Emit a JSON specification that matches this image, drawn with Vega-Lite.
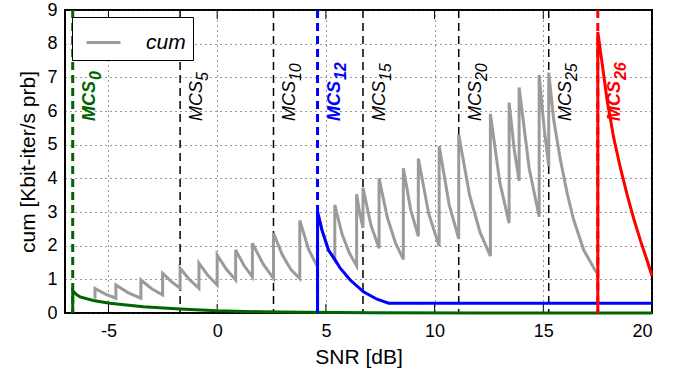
{
  "$schema": "https://vega.github.io/schema/vega-lite/v6.json",
  "width": 587,
  "height": 303,
  "autosize": {"type": "none"},
  "padding": {"left": 65, "top": 10, "right": 37, "bottom": 63},
  "background": "white",
  "config": {
    "view": {"stroke": "black", "strokeWidth": 2},
    "font": "Liberation Sans",
    "axis": {"labelFont": "Liberation Sans", "titleFont": "Liberation Sans", "labelColor": "black", "titleColor": "black", "titleFontWeight": "normal", "domain": false,
      "grid": true, "gridDash": [1, 4], "gridColor": "#333333", "gridWidth": 1, "gridOpacity": 1, "ticks": true, "tickSize": 0, "tickColor": "black",
      "labelFontSize": 18, "titleFontSize": 21, "labelOverlap": false},
    "axisX": {"labelPadding": 9, "titlePadding": 6},
    "axisY": {"labelPadding": 8, "titlePadding": 8}
  },
  "datasets": {
    "gray": [
      {"x": -5.62, "y": 0.42}, {"x": -5.62, "y": 0.73}, {"x": -5.14, "y": 0.56}, {"x": -4.66, "y": 0.44},
      {"x": -4.66, "y": 0.83}, {"x": -4.085, "y": 0.6}, {"x": -3.51, "y": 0.44},
      {"x": -3.51, "y": 0.98}, {"x": -3.01, "y": 0.72}, {"x": -2.51, "y": 0.535},
      {"x": -2.51, "y": 1.18}, {"x": -2.105, "y": 0.93}, {"x": -1.705, "y": 0.734},
      {"x": -1.705, "y": 1.33}, {"x": -1.27, "y": 0.99}, {"x": -0.84, "y": 0.734},
      {"x": -0.84, "y": 1.48}, {"x": -0.42, "y": 1.11}, {"x": 0.0, "y": 0.832},
      {"x": 0.0, "y": 1.72}, {"x": 0.425, "y": 1.3}, {"x": 0.85, "y": 0.98},
      {"x": 0.85, "y": 1.87}, {"x": 1.235, "y": 1.41}, {"x": 1.62, "y": 1.07},
      {"x": 1.62, "y": 2.07}, {"x": 2.11, "y": 1.46}, {"x": 2.59, "y": 1.03},
      {"x": 2.59, "y": 2.37}, {"x": 3.0, "y": 1.72}, {"x": 3.4, "y": 1.28}, {"x": 3.8, "y": 1.02},
      {"x": 3.8, "y": 2.75}, {"x": 4.21, "y": 1.88}, {"x": 4.616, "y": 1.37},
      {"x": 4.616, "y": 3.0}, {"x": 4.82, "y": 2.46}, {"x": 5.12, "y": 1.87}, {"x": 5.41, "y": 1.58},
      {"x": 5.41, "y": 3.21}, {"x": 5.74, "y": 2.35}, {"x": 6.08, "y": 1.78}, {"x": 6.414, "y": 1.4},
      {"x": 6.414, "y": 3.53}, {"x": 6.56, "y": 2.95}, {"x": 6.706, "y": 2.53},
      {"x": 6.706, "y": 3.72}, {"x": 7.076, "y": 2.6}, {"x": 7.447, "y": 1.92},
      {"x": 7.447, "y": 4.0}, {"x": 7.82, "y": 2.85}, {"x": 8.19, "y": 2.1}, {"x": 8.562, "y": 1.59},
      {"x": 8.562, "y": 4.3}, {"x": 8.907, "y": 3.05}, {"x": 9.252, "y": 2.28},
      {"x": 9.252, "y": 4.59}, {"x": 9.73, "y": 2.95}, {"x": 10.21, "y": 1.98},
      {"x": 10.21, "y": 4.96}, {"x": 10.67, "y": 3.22}, {"x": 11.11, "y": 2.2},
      {"x": 11.11, "y": 5.3}, {"x": 11.61, "y": 3.5}, {"x": 12.09, "y": 2.4}, {"x": 12.567, "y": 1.69},
      {"x": 12.567, "y": 5.91}, {"x": 13.0, "y": 3.88}, {"x": 13.428, "y": 2.67},
      {"x": 13.428, "y": 6.25}, {"x": 13.658, "y": 4.88}, {"x": 13.888, "y": 3.93},
      {"x": 13.888, "y": 6.7}, {"x": 14.35, "y": 4.3}, {"x": 14.81, "y": 2.86},
      {"x": 14.81, "y": 7.07}, {"x": 15.04, "y": 5.48}, {"x": 15.25, "y": 4.36},
      {"x": 15.25, "y": 7.14}, {"x": 15.48, "y": 5.73}, {"x": 15.79, "y": 4.54}, {"x": 16.1, "y": 3.55},
      {"x": 16.4, "y": 2.76}, {"x": 16.86, "y": 1.87}, {"x": 17.4, "y": 1.25}, {"x": 17.507, "y": 1.17}
    ],
    "green": [
      {"x": -6.645, "y": 0}, {"x": -6.645, "y": 0.66}, {"x": -6.5, "y": 0.56}, {"x": -6.31, "y": 0.48},
      {"x": -5.7, "y": 0.37}, {"x": -4.94, "y": 0.29}, {"x": -3.4, "y": 0.185}, {"x": -1.71, "y": 0.12},
      {"x": -0.02, "y": 0.068}, {"x": 1.97, "y": 0.038}, {"x": 4.0, "y": 0.02}, {"x": 7.0, "y": 0.008},
      {"x": 12.0, "y": 0.003}, {"x": 20.0, "y": 0.001}
    ],
    "blue": [
      {"x": 4.616, "y": 0}, {"x": 4.616, "y": 3.01}, {"x": 4.82, "y": 2.46}, {"x": 5.12, "y": 1.87},
      {"x": 5.43, "y": 1.57}, {"x": 5.66, "y": 1.33}, {"x": 6.12, "y": 0.98}, {"x": 6.73, "y": 0.63},
      {"x": 7.35, "y": 0.41}, {"x": 7.885, "y": 0.29}, {"x": 20.0, "y": 0.29}
    ],
    "red": [
      {"x": 17.507, "y": 0}, {"x": 17.507, "y": 8.35}, {"x": 17.71, "y": 7.4}, {"x": 17.94, "y": 6.3},
      {"x": 18.24, "y": 5.2}, {"x": 18.55, "y": 4.3}, {"x": 18.86, "y": 3.5}, {"x": 19.16, "y": 2.8},
      {"x": 19.47, "y": 2.15}, {"x": 19.78, "y": 1.55}, {"x": 20.0, "y": 1.1}
    ],
    "mcs": [
      {"mcs": 0, "x": -6.645, "sub": "0", "hl": true},
      {"mcs": 5, "x": -1.705, "sub": "5", "hl": false},
      {"mcs": 10, "x": 2.59, "sub": "10", "hl": false},
      {"mcs": 12, "x": 4.616, "sub": "12", "hl": true},
      {"mcs": 15, "x": 6.706, "sub": "15", "hl": false},
      {"mcs": 20, "x": 11.11, "sub": "20", "hl": false},
      {"mcs": 25, "x": 15.25, "sub": "25", "hl": false},
      {"mcs": 26, "x": 17.507, "sub": "26", "hl": true}
    ],
    "xticks": [
      {"t": -5, "lo": 0, "hi": 0.27}, {"t": 0, "lo": 0, "hi": 0.27}, {"t": 5, "lo": 0, "hi": 0.27},
      {"t": 10, "lo": 0, "hi": 0.27}, {"t": 15, "lo": 0, "hi": 0.27}, {"t": 20, "lo": 0, "hi": 0.27},
      {"t": -5, "lo": 8.73, "hi": 9}, {"t": 0, "lo": 8.73, "hi": 9}, {"t": 5, "lo": 8.73, "hi": 9},
      {"t": 10, "lo": 8.73, "hi": 9}, {"t": 15, "lo": 8.73, "hi": 9}, {"t": 20, "lo": 8.73, "hi": 9}
    ]
  },
  "layer": [
    {
      "data": {"name": "xticks"},
      "mark": {"type": "rule", "color": "black", "strokeWidth": 1},
      "encoding": {
        "x": {"field": "t", "type": "quantitative", "scale": {"domain": [-7, 20], "nice": false, "zero": false},
          "axis": {"values": [-5, 0, 5, 10, 15, 20], "title": "SNR [dB]", "labelExpr": "datum.value < 0 ? '-' + abs(datum.value) : '' + datum.value"}},
        "y": {"field": "lo", "type": "quantitative", "scale": {"domain": [0, 9], "nice": false, "zero": true},
          "axis": {"values": [0, 1, 2, 3, 4, 5, 6, 7, 8, 9], "tickCount": 10, "title": "cum [Kbit-iter/s prb]"}},
        "y2": {"field": "hi"}
      }
    },
    {
      "data": {"name": "mcs"},
      "mark": {"type": "rule", "strokeDash": [8, 5]},
      "encoding": {
        "x": {"field": "x", "type": "quantitative",
          "axis": {"values": [-5, 0, 5, 10, 15, 20], "title": "SNR [dB]", "labelExpr": "datum.value < 0 ? '-' + abs(datum.value) : '' + datum.value"}},
        "color": {"condition": [{"test": "datum.mcs == 0", "value": "#006400"}, {"test": "datum.mcs == 12", "value": "#0000ff"}, {"test": "datum.mcs == 26", "value": "#ff0000"}], "value": "black"},
        "strokeWidth": {"condition": {"test": "datum.hl", "value": 3}, "value": 1.5}
      }
    },
    {
      "data": {"name": "gray"},
      "mark": {"type": "line", "strokeWidth": 3},
      "encoding": {
        "x": {"field": "x", "type": "quantitative",
          "axis": {"values": [-5, 0, 5, 10, 15, 20], "title": "SNR [dB]", "labelExpr": "datum.value < 0 ? '-' + abs(datum.value) : '' + datum.value"}},
        "y": {"field": "y", "type": "quantitative",
          "axis": {"values": [0, 1, 2, 3, 4, 5, 6, 7, 8, 9], "tickCount": 10, "title": "cum [Kbit-iter/s prb]"}},
        "color": {"datum": "cum", "type": "nominal", "scale": {"range": ["#9b9b9b"]},
          "legend": {"title": null, "orient": "top-left", "offset": 7, "fillColor": "white", "strokeColor": "black", "padding": 7, "cornerRadius": 0,
            "symbolType": "stroke", "symbolSize": 1156, "symbolStrokeWidth": 3, "symbolOffset": 6,
            "labelFont": "Liberation Sans", "labelFontStyle": "italic", "labelFontSize": 21, "labelOffset": 24, "labelColor": "black"}}
      }
    },
    {
      "data": {"name": "green"},
      "mark": {"type": "line", "strokeWidth": 3, "color": "#006400"},
      "encoding": {
        "x": {"field": "x", "type": "quantitative",
          "axis": {"values": [-5, 0, 5, 10, 15, 20], "title": "SNR [dB]", "labelExpr": "datum.value < 0 ? '-' + abs(datum.value) : '' + datum.value"}},
        "y": {"field": "y", "type": "quantitative",
          "axis": {"values": [0, 1, 2, 3, 4, 5, 6, 7, 8, 9], "tickCount": 10, "title": "cum [Kbit-iter/s prb]"}}
      }
    },
    {
      "data": {"name": "blue"},
      "mark": {"type": "line", "strokeWidth": 3, "color": "#0000ff"},
      "encoding": {
        "x": {"field": "x", "type": "quantitative",
          "axis": {"values": [-5, 0, 5, 10, 15, 20], "title": "SNR [dB]", "labelExpr": "datum.value < 0 ? '-' + abs(datum.value) : '' + datum.value"}},
        "y": {"field": "y", "type": "quantitative",
          "axis": {"values": [0, 1, 2, 3, 4, 5, 6, 7, 8, 9], "tickCount": 10, "title": "cum [Kbit-iter/s prb]"}}
      }
    },
    {
      "data": {"name": "red"},
      "mark": {"type": "line", "strokeWidth": 3, "color": "#ff0000"},
      "encoding": {
        "x": {"field": "x", "type": "quantitative",
          "axis": {"values": [-5, 0, 5, 10, 15, 20], "title": "SNR [dB]", "labelExpr": "datum.value < 0 ? '-' + abs(datum.value) : '' + datum.value"}},
        "y": {"field": "y", "type": "quantitative",
          "axis": {"values": [0, 1, 2, 3, 4, 5, 6, 7, 8, 9], "tickCount": 10, "title": "cum [Kbit-iter/s prb]"}}
      }
    },
    {
      "data": {"name": "mcs"},
      "transform": [{"filter": "!datum.hl"}],
      "mark": {"type": "text", "angle": 270, "align": "left", "baseline": "alphabetic", "font": "Liberation Sans", "fontStyle": "italic", "fontSize": 18, "dy": 22},
      "encoding": {
        "x": {"field": "x", "type": "quantitative",
          "axis": {"values": [-5, 0, 5, 10, 15, 20], "title": "SNR [dB]", "labelExpr": "datum.value < 0 ? '-' + abs(datum.value) : '' + datum.value"}},
        "y": {"datum": 5.7, "type": "quantitative",
          "axis": {"values": [0, 1, 2, 3, 4, 5, 6, 7, 8, 9], "tickCount": 10, "title": "cum [Kbit-iter/s prb]"}},
        "text": {"value": "MCS"},
        "color": {"value": "black"}
      }
    },
    {
      "data": {"name": "mcs"},
      "transform": [{"filter": "!datum.hl"}],
      "mark": {"type": "text", "angle": 270, "align": "left", "baseline": "alphabetic", "font": "Liberation Sans", "fontStyle": "italic", "fontSize": 16, "dx": 40, "dy": 28},
      "encoding": {
        "x": {"field": "x", "type": "quantitative",
          "axis": {"values": [-5, 0, 5, 10, 15, 20], "title": "SNR [dB]", "labelExpr": "datum.value < 0 ? '-' + abs(datum.value) : '' + datum.value"}},
        "y": {"datum": 5.7, "type": "quantitative",
          "axis": {"values": [0, 1, 2, 3, 4, 5, 6, 7, 8, 9], "tickCount": 10, "title": "cum [Kbit-iter/s prb]"}},
        "text": {"field": "sub"},
        "color": {"value": "black"}
      }
    },
    {
      "data": {"name": "mcs"},
      "transform": [{"filter": "datum.hl"}],
      "mark": {"type": "text", "angle": 270, "align": "left", "baseline": "alphabetic", "font": "Liberation Sans", "fontStyle": "italic", "fontWeight": "bold", "fontSize": 18, "dy": 22},
      "encoding": {
        "x": {"field": "x", "type": "quantitative",
          "axis": {"values": [-5, 0, 5, 10, 15, 20], "title": "SNR [dB]", "labelExpr": "datum.value < 0 ? '-' + abs(datum.value) : '' + datum.value"}},
        "y": {"datum": 5.7, "type": "quantitative",
          "axis": {"values": [0, 1, 2, 3, 4, 5, 6, 7, 8, 9], "tickCount": 10, "title": "cum [Kbit-iter/s prb]"}},
        "text": {"value": "MCS"},
        "color": {"condition": [{"test": "datum.mcs == 0", "value": "#006400"}, {"test": "datum.mcs == 12", "value": "#0000ff"}], "value": "#ff0000"}
      }
    },
    {
      "data": {"name": "mcs"},
      "transform": [{"filter": "datum.hl"}],
      "mark": {"type": "text", "angle": 270, "align": "left", "baseline": "alphabetic", "font": "Liberation Sans", "fontStyle": "italic", "fontWeight": "bold", "fontSize": 16, "dx": 41, "dy": 28},
      "encoding": {
        "x": {"field": "x", "type": "quantitative",
          "axis": {"values": [-5, 0, 5, 10, 15, 20], "title": "SNR [dB]", "labelExpr": "datum.value < 0 ? '-' + abs(datum.value) : '' + datum.value"}},
        "y": {"datum": 5.7, "type": "quantitative",
          "axis": {"values": [0, 1, 2, 3, 4, 5, 6, 7, 8, 9], "tickCount": 10, "title": "cum [Kbit-iter/s prb]"}},
        "text": {"field": "sub"},
        "color": {"condition": [{"test": "datum.mcs == 0", "value": "#006400"}, {"test": "datum.mcs == 12", "value": "#0000ff"}], "value": "#ff0000"}
      }
    }
  ]
}
